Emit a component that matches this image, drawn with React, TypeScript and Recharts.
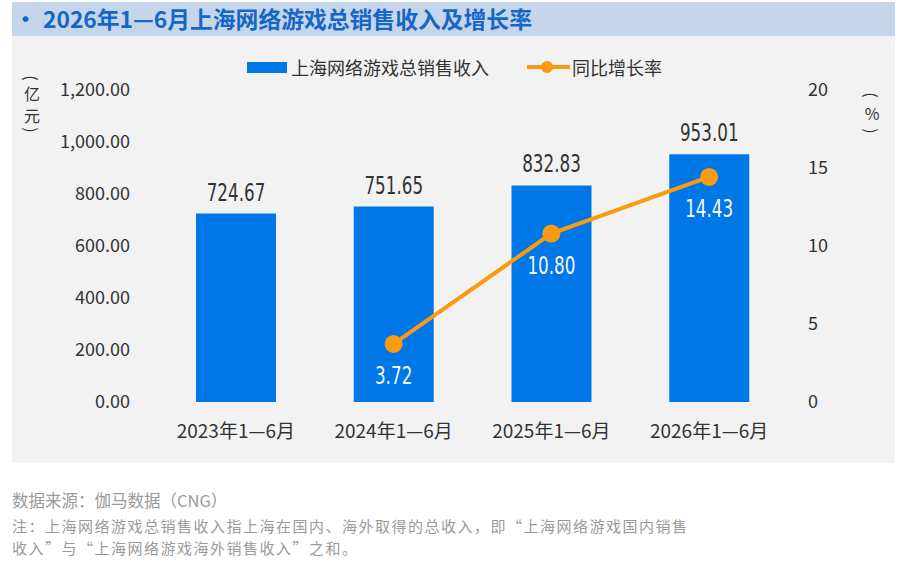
import React from 'react';
import { ComposedChart, Bar, Line, XAxis, YAxis, LabelList } from 'recharts';

const categories = ['2023年1—6月', '2024年1—6月', '2025年1—6月', '2026年1—6月'];
const revenue = [724.67, 751.65, 832.83, 953.01];
const growth: (number | null)[] = [null, 3.72, 10.8, 14.43];
const leftTicks = [0, 200, 400, 600, 800, 1000, 1200];
const rightTicks = [0, 5, 10, 15, 20];

const title = '2026年1—6月上海网络游戏总销售收入及增长率';
const revenueName = '上海网络游戏总销售收入';
const growthName = '同比增长率';
const sourceText = '数据来源：伽马数据（CNG）';
const noteLine1 = '注：上海网络游戏总销售收入指上海在国内、海外取得的总收入，即“上海网络游戏国内销售';
const noteLine2 = '收入”与“上海网络游戏海外销售收入”之和。';
const leftUnit = ['(', '亿', '元', ')'];
const rightUnit = ['(', '%', ')'];

const data = categories.map((c, i) => ({ name: c, revenue: revenue[i], growth: growth[i] }));

const BLUE = '#0077e6';
const ORANGE = '#fb9a0e';
const CJK = '"Noto Sans CJK SC", "Noto Sans", sans-serif';
const NUM = '"DejaVu Sans Condensed", "DejaVu Sans", sans-serif';

const fmtLeft = (v: number) =>
  v.toLocaleString('en-US', { minimumFractionDigits: 2, maximumFractionDigits: 2 });

// condensed numeric label width (DIN-like look)
const numWidth = (s: string) => {
  let w = 0;
  for (const ch of s) w += ch === '.' ? 5.6 : 10.6;
  return w;
};

const NumText = ({ x, y, text, fill }: { x: number; y: number; text: string; fill: string }) => (
  <text
    x={x}
    y={y}
    textAnchor="middle"
    fill={fill}
    fontSize={24}
    fontFamily={NUM}
    textLength={numWidth(text)}
    lengthAdjust="spacingAndGlyphs"
  >
    {text}
  </text>
);

const RevenueLabel = (props: any) => {
  const { x, y, width, value } = props;
  if (value === null || value === undefined) return null;
  return <NumText x={x + width / 2} y={y - 13} text={Number(value).toFixed(2)} fill="#333333" />;
};

const GrowthLabel = (props: any) => {
  const { x, y, value } = props;
  if (value === null || value === undefined) return null;
  return <NumText x={x} y={y + 40} text={Number(value).toFixed(2)} fill="#f4f4ff" />;
};

const VerticalUnit = ({
  chars,
  left,
  top,
  parenH,
  charH,
}: {
  chars: string[];
  left: number;
  top: number;
  parenH: number;
  charH: number;
}) => (
  <div
    style={{
      position: 'absolute',
      left,
      top,
      width: 20,
      display: 'flex',
      flexDirection: 'column',
      alignItems: 'center',
      fontSize: 16,
      color: '#333333',
    }}
  >
    {chars.map((c, i) => {
      const isParen = c === '(' || c === ')';
      const h = isParen ? parenH : charH;
      return (
        <div
          key={i}
          style={{
            height: h,
            lineHeight: h + 'px',
            display: 'flex',
            alignItems: 'center',
            justifyContent: 'center',
            overflow: 'visible',
          }}
        >
          <span
            style={{
              display: 'inline-block',
              transform: isParen ? 'rotate(90deg)' : 'none',
              lineHeight: h + 'px',
            }}
          >
            {c}
          </span>
        </div>
      );
    })}
  </div>
);

export default function App() {
  return (
    <div
      style={{
        position: 'absolute',
        left: 0,
        top: 0,
        width: 900,
        height: 572,
        background: '#ffffff',
        fontFamily: CJK,
        overflow: 'hidden',
      }}
    >
      <div
        style={{
          position: 'absolute',
          left: 12,
          top: 2,
          width: 883,
          height: 34,
          background: '#c6d6ea',
        }}
      />
      <div
        style={{
          position: 'absolute',
          left: 14,
          top: 2,
          height: 34,
          lineHeight: '34px',
          fontSize: 22.8,
          fontWeight: 700,
          color: '#1666c6',
          whiteSpace: 'nowrap',
        }}
      >
        <span style={{ display: 'inline-block', width: 16, textAlign: 'center', marginRight: 13 }}>•</span>
        {title}
      </div>
      <div
        style={{
          position: 'absolute',
          left: 12,
          top: 36,
          width: 883,
          height: 427,
          background: '#f2f2f2',
        }}
      />
      <div style={{ position: 'absolute', left: 0, top: 0 }}>
        <ComposedChart
          width={900}
          height={572}
          data={data}
          margin={{ top: 90, right: 52, bottom: 140, left: 77 }}
        >
          <XAxis
            dataKey="name"
            height={30}
            axisLine={false}
            tickLine={false}
            tickMargin={17}
            tick={{ fill: '#333333', fontSize: 19, fontFamily: CJK }}
            interval={0}
          />
          <YAxis
            yAxisId="left"
            width={80}
            domain={[0, 1200]}
            ticks={leftTicks}
            tickFormatter={fmtLeft}
            axisLine={false}
            tickLine={false}
            tickMargin={21}
            tick={{ fill: '#333333', fontSize: 18, fontFamily: CJK }}
          />
          <YAxis
            yAxisId="right"
            orientation="right"
            width={60}
            domain={[0, 20]}
            ticks={rightTicks}
            axisLine={false}
            tickLine={false}
            tickMargin={14}
            tick={{ fill: '#333333', fontSize: 18, fontFamily: CJK }}
          />
          <Bar
            yAxisId="left"
            dataKey="revenue"
            fill={BLUE}
            barSize={80}
            isAnimationActive={false}
          >
            <LabelList dataKey="revenue" content={RevenueLabel} />
          </Bar>
          <Line
            yAxisId="right"
            dataKey="growth"
            stroke={ORANGE}
            strokeWidth={4}
            dot={{ r: 9, fill: ORANGE, stroke: ORANGE, strokeWidth: 0 }}
            activeDot={false}
            connectNulls={false}
            isAnimationActive={false}
          >
            <LabelList dataKey="growth" content={GrowthLabel} />
          </Line>
        </ComposedChart>
      </div>

      {/* Legend */}
      <div
        style={{
          position: 'absolute',
          left: 247,
          top: 62,
          width: 40,
          height: 11,
          background: BLUE,
        }}
      />
      <div
        style={{
          position: 'absolute',
          left: 291,
          top: 54,
          lineHeight: '26px',
          fontSize: 18,
          color: '#333333',
          whiteSpace: 'nowrap',
        }}
      >
        {revenueName}
      </div>
      <div
        style={{
          position: 'absolute',
          left: 527,
          top: 65,
          width: 43,
          height: 4,
          background: ORANGE,
        }}
      />
      <div
        style={{
          position: 'absolute',
          left: 541,
          top: 61,
          width: 12,
          height: 12,
          borderRadius: 6,
          background: ORANGE,
        }}
      />
      <div
        style={{
          position: 'absolute',
          left: 572,
          top: 54,
          lineHeight: '26px',
          fontSize: 18,
          color: '#333333',
          whiteSpace: 'nowrap',
        }}
      >
        {growthName}
      </div>

      {/* Axis units */}
      <VerticalUnit chars={leftUnit} left={22} top={74} parenH={8} charH={22} />
      <VerticalUnit chars={rightUnit} left={862} top={88} parenH={14} charH={22} />

      {/* Footer */}
      <div
        style={{
          position: 'absolute',
          left: 12,
          top: 489,
          fontSize: 16.5,
          lineHeight: '22px',
          color: '#9a9a9a',
          whiteSpace: 'nowrap',
        }}
      >
        {sourceText}
      </div>
      <div
        style={{
          position: 'absolute',
          left: 12,
          top: 515,
          fontSize: 15,
          letterSpacing: 1.5,
          lineHeight: '22px',
          color: '#9a9a9a',
          whiteSpace: 'nowrap',
        }}
      >
        <div>{noteLine1}</div>
        <div>{noteLine2}</div>
      </div>
    </div>
  );
}
